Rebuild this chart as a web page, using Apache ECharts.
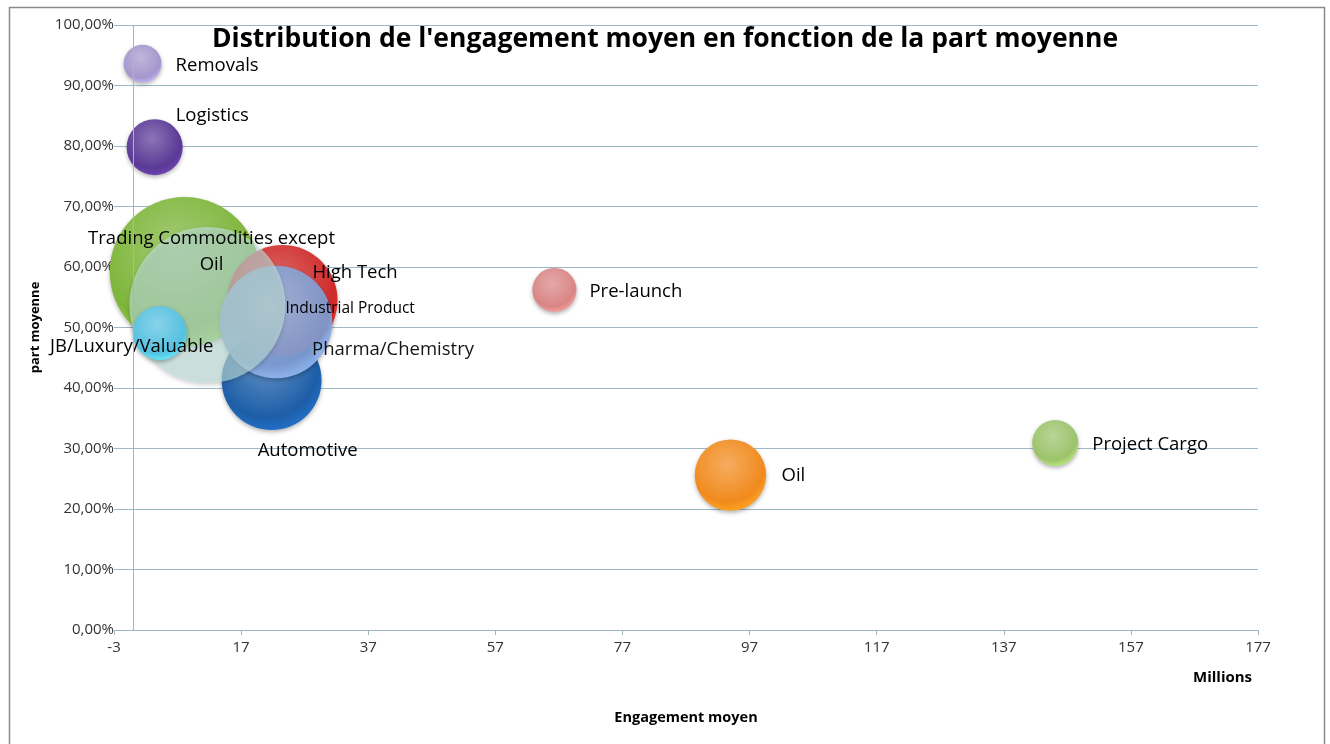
<!DOCTYPE html>
<html>
<head>
<meta charset="utf-8">
<title>Distribution de l'engagement moyen</title>
<script src="https://cdn.jsdelivr.net/npm/echarts@6/dist/echarts.min.js"></script>
<style>
  html, body { margin: 0; padding: 0; background: #fff; }
  #chart { width: 1330px; height: 744px; }
</style>
</head>
<body>
<div id="chart"></div>
<script>
  // data, in drawing order (bottom bubble first)
  const names = ['Trading Commodities except\nOil', 'Automotive', 'High Tech', 'Pharma/Chemistry',
    'Industrial Product', 'JB/Luxury/Valuable', 'Removals', 'Logistics', 'Pre-launch', 'Oil', 'Project Cargo'];
  const engagement = [8.1, 21.8, 23.5, 22.5, 11.7, 4.2, 1.5, 3.4, 66.3, 94.0, 145.1];   // Millions
  const partMoyenne = [0.592, 0.413, 0.545, 0.509, 0.537, 0.491, 0.936, 0.798, 0.562, 0.256, 0.309];
  const bubbleSize = [92, 41, 50, 52, 100, 12, 5.9, 12.9, 8, 21, 8.7];

  // looks
  const colors = ['#7db53a', '#1d5ea8', '#cf2b2b', '#7e9dd3', 'rgba(196,232,226,0.6)', '#55c1e0',
    '#a597cc', '#5a3996', '#d98585', '#f18a1d', '#9cc36b'];
  const labelLayout = [
    {align: 'center', offset: [27, -20]},
    {align: 'center', offset: [36, 71]},
    {align: 'left', offset: [30, -28]},
    {align: 'left', offset: [36, 28]},
    {align: 'left', offset: [78, 3], fontSize: 15.5},
    {align: 'center', offset: [-28, 14]},
    {align: 'left', offset: [33, 2]},
    {align: 'left', offset: [21, -31]},
    {align: 'left', offset: [35, 2]},
    {align: 'left', offset: [51, 1]},
    {align: 'left', offset: [37, 2]}
  ];

  const font = '"Open Sans", "Noto Sans", sans-serif';
  const gridColor = '#9db8c8';

  function bubbleFill(c) {
    if (c.indexOf('rgba') === 0) return c;
    return {
      type: 'radial', x: 0.45, y: 0.35, r: 0.7,
      colorStops: [
        {offset: 0, color: echarts.color.lift(c, 0.3)},
        {offset: 0.75, color: c},
        {offset: 1, color: echarts.color.lift(c, -0.25)}
      ]
    };
  }

  const points = names.map(function (n, i) {
    const lay = labelLayout[i];
    return {
      name: n,
      value: [engagement[i], partMoyenne[i], bubbleSize[i]],
      itemStyle: {
        color: bubbleFill(colors[i]),
        opacity: i === 3 ? 0.92 : 1,
        shadowBlur: 4,
        shadowOffsetY: 2,
        shadowColor: 'rgba(0,0,0,0.3)'
      },
      label: {
        show: true,
        position: 'inside',
        formatter: '{b}',
        color: '#000',
        textBorderWidth: 0,
        align: lay.align,
        verticalAlign: 'middle',
        offset: lay.offset,
        fontSize: lay.fontSize || 18.5,
        lineHeight: 26
      }
    };
  });

  const myChart = echarts.init(document.getElementById('chart'));
  myChart.setOption({
    animation: false,
    textStyle: {fontFamily: font},
    title: {
      text: "Distribution de l'engagement moyen en fonction de la part moyenne",
      left: 'center',
      top: 21,
      textStyle: {fontSize: 26.5, fontWeight: 'bold', color: '#000', fontFamily: font}
    },
    graphic: [
      {
        type: 'rect', left: 7, top: 5,
        shape: {width: 1315, height: 740},
        style: {fill: 'none', stroke: '#8a8a8a', lineWidth: 1.5}
      },
      {
        type: 'text', left: 1193, top: 670,
        style: {text: 'Millions', fill: '#000', font: 'bold 15px ' + font}
      }
    ],
    grid: {left: 114, right: 72, top: 25, bottom: 114},
    xAxis: {
      type: 'value',
      min: -3,
      max: 177,
      interval: 20,
      name: 'Engagement moyen',
      nameLocation: 'middle',
      nameGap: 80,
      nameTextStyle: {fontSize: 14.5, fontWeight: 'bold', color: '#000'},
      axisLine: {onZero: false, lineStyle: {color: gridColor}},
      axisTick: {show: true, length: 5, lineStyle: {color: gridColor}},
      axisLabel: {fontSize: 15, color: '#333', margin: 10},
      splitLine: {show: false}
    },
    yAxis: {
      type: 'value',
      min: 0,
      max: 1,
      interval: 0.1,
      name: 'part moyenne',
      nameLocation: 'middle',
      nameGap: 72,
      nameRotate: 90,
      nameTextStyle: {fontSize: 13, fontWeight: 'bold', color: '#000'},
      axisLine: {show: false},
      axisTick: {show: false},
      axisLabel: {
        fontSize: 15, color: '#333', margin: 0,
        formatter: function (v) { return (v * 100).toFixed(2).replace('.', ',') + '%'; }
      },
      splitLine: {lineStyle: {color: gridColor, width: 1}}
    },
    series: [{
      type: 'scatter',
      symbolSize: function (val) { return 15.6 * Math.sqrt(val[2]); },
      data: points,
      markLine: {
        silent: true,
        symbol: 'none',
        label: {show: false},
        lineStyle: {color: gridColor, type: 'solid', width: 1},
        data: [{xAxis: 0}]
      },
      z: 3
    }]
  });
</script>
</body>
</html>
